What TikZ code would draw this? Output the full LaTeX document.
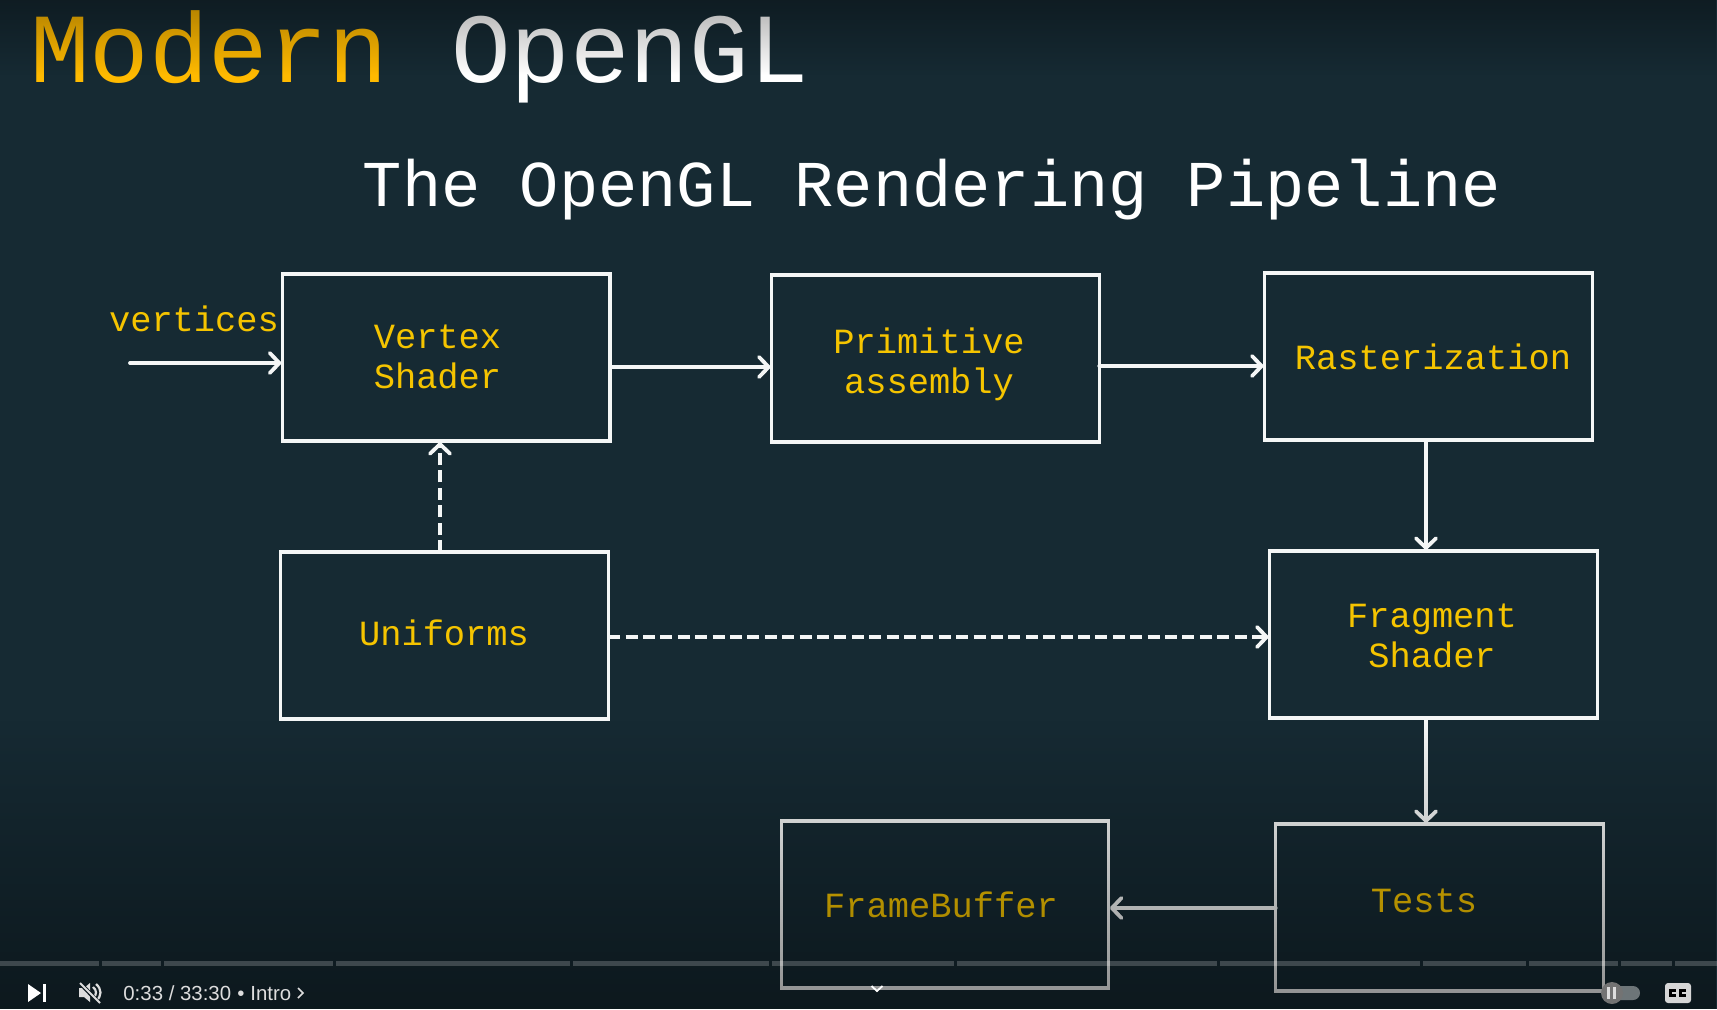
\documentclass[tikz,border=0pt]{standalone}
\usepackage{fontspec}
\setmainfont{Liberation Mono}
\newfontfamily\uifont{Liberation Sans}
\usetikzlibrary{arrows.meta,fadings,calc}
\definecolor{slidebg}{HTML}{162A33}
\definecolor{labelgold}{HTML}{F5C400}
\definecolor{titlegold}{HTML}{FFBA00}
\definecolor{linewhite}{HTML}{F4F6F6}
\definecolor{uitext}{HTML}{DDDDDD}
\tikzfading[name=fadedown, top color=transparent!100, bottom color=transparent!58]
\tikzfading[name=fadeup, top color=transparent!68, bottom color=transparent!100]
\tikzset{
  x=0.5pt,y=-0.5pt,
  boxnode/.style={draw=linewhite,line width=1.7pt,minimum width=163.75pt,minimum height=83.5pt,inner sep=0pt,outer sep=0pt},
  lab/.style={text=labelgold,font=\fontsize{17.7}{20}\selectfont,align=center,inner sep=0pt},
  flow/.style={draw=linewhite,line width=1.9pt,line cap=round,shorten >=0.6pt,-{Straight Barb[round,length=4.8pt,width=10pt,line width=1.9pt]}},
  dashflow/.style={flow,line cap=butt,line width=2pt,dash pattern=on 6pt off 2.7pt},
  seg/.style={fill=white,fill opacity=0.2,draw=none},
}
\begin{document}
\begin{tikzpicture}
\useasboundingbox (0,0) rectangle (1717,1009);
\fill[slidebg] (0,0) rectangle (1717,1009);

% titles
\node[anchor=base west,inner sep=0pt,text=titlegold,font=\fontsize{49.6}{50}\selectfont] (t1) at (30,82) {Modern};
\node[anchor=base west,inner sep=0pt,text=white,font=\fontsize{49.6}{50}\selectfont] (t2) at (451,82) {OpenGL};
\node[anchor=base,inner sep=0pt,text=white,font=\fontsize{32.7}{34}\selectfont] (sub) at (932,206) {The OpenGL Rendering Pipeline};

% boxes
\node[boxnode] (vs) at (446.25,357.5) {};
\node[boxnode] (pa) at (935.5,358.5) {};
\node[boxnode] (ra) at (1428.5,356.5) {};
\node[boxnode] (un) at (444.5,635.5) {};
\node[boxnode] (fs) at (1433.5,634.5) {};
\node[boxnode] (fb) at (945,904.5) {};
\node[boxnode] (te) at (1439.5,907.5) {};

% labels
\node[lab,anchor=base] (lv) at (194,331) {vertices};
\node[lab] (lvs) at (437.5,356.5) {Vertex\\Shader};
\node[lab] (lpa) at (929,364) {Primitive\\assembly};
\node[lab,anchor=base] (lra) at (1433,369) {Rasterization};
\node[lab,anchor=base] (lun) at (444,645) {Uniforms};
\node[lab] (lfs) at (1432,635.5) {Fragment\\Shader};
\node[lab,anchor=base] (lfb) at (941,917) {FrameBuffer};
\node[lab,anchor=base] (lte) at (1424,912) {Tests};

% connectors
\coordinate (vin) at (130,363);
\coordinate (r1) at (0,367);
\coordinate (r2) at (0,366);
\coordinate (r3) at (0,637);
\coordinate (r4) at (0,908);
\coordinate (c1) at (1426,0);
\coordinate (c2) at (440,0);
\draw[flow] (vin) -- (vin -| vs.west);
\draw[flow] (vs.east |- r1) -- (pa.west |- r1);
\draw[flow] (pa.east |- r2) -- (ra.west |- r2);
\draw[flow] (ra.south -| c1) -- (fs.north -| c1);
\draw[flow] (fs.south -| c1) -- (te.north -| c1);
\draw[flow] (te.west |- r4) -- (fb.east |- r4);
\draw[dashflow] (un.north -| c2) -- (vs.south -| c2);
\draw[dashflow] (un.east |- r3) -- (fs.west |- r3);

% video fades
\fill[black,path fading=fadeup] (0,0) rectangle (1717,75);
\fill[black,path fading=fadedown] (0,720) rectangle (1717,1009);

% progress bar
\foreach \a/\b in {0/99,102/161,164/333,336/570,573/769,772/954,957/1217,1220/1420,1423/1526,1529/1618,1621/1672,1675/1717}
  \fill[seg] (\a,960.5) rectangle (\b,965.5);

% player controls
\fill[white] (28,984) -- (41,993) -- (28,1002) -- cycle;
\fill[white] (43,984) rectangle (46,1002);
\fill[uitext] (79,988) -- (84,988) -- (90,983) -- (90,1002) -- (84,997) -- (79,997) -- cycle;
\draw[uitext,line width=1.1pt] (93,987) .. controls (97,990) and (97,995) .. (93,998);
\draw[uitext,line width=1.1pt] (96,984) .. controls (102,989) and (102,996) .. (96,1001);
\draw[slidebg!60!black,line width=2pt] (81,984) -- (101,1005);
\draw[uitext,line width=1pt] (80,983) -- (100,1003);
\node[anchor=base west,inner sep=0pt,text=uitext,font=\uifont\fontsize{10.2}{12}\selectfont] (tm) at (123,1000) {0:33 / 33:30};
\node[anchor=base west,inner sep=0pt,text=uitext,font=\uifont\fontsize{10.2}{12}\selectfont] (dot) at (237,1000) {•};
\node[anchor=base west,inner sep=0pt,text=uitext,font=\uifont\fontsize{10.2}{12}\selectfont] (ch) at (250,1000) {Intro};
\draw[uitext,line width=0.8pt] (298,988) -- (303,993) -- (298,998);
\draw[white,line width=0.9pt] (871.5,986) -- (877,991) -- (882.5,986);
\fill[white,fill opacity=0.4,rounded corners=3.5pt] (1612,986) rectangle (1640,1000);
\fill[black!55!white] (1612,993) circle[radius=5.5pt];
\fill[uitext] (1607,987) rectangle (1610,999);
\fill[uitext] (1613,987) rectangle (1616,999);
\fill[uitext!120!white,rounded corners=1.5pt] (1665,983) rectangle (1691,1003);
\draw[black,line width=1.2pt] (1676,990.5) -- (1670.5,990.5) -- (1670.5,995.5) -- (1676,995.5);
\draw[black,line width=1.2pt] (1686,990.5) -- (1680.5,990.5) -- (1680.5,995.5) -- (1686,995.5);
\end{tikzpicture}
\end{document}
